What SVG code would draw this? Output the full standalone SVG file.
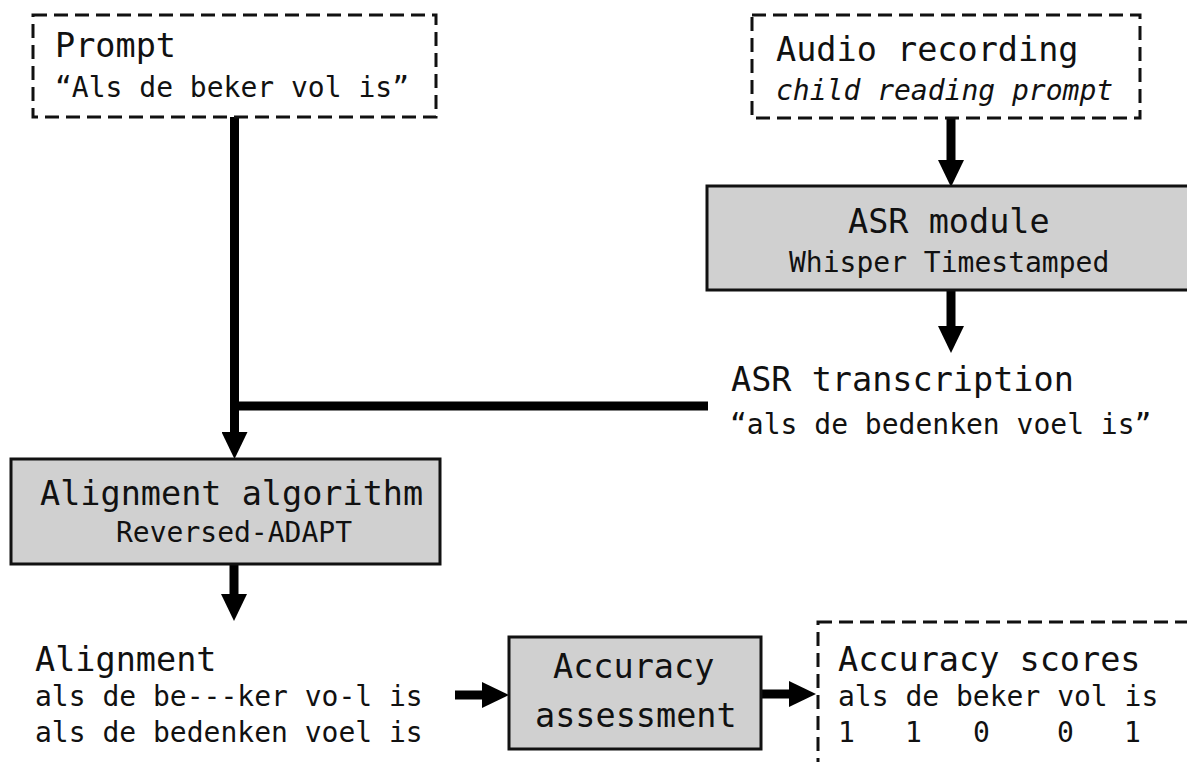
<svg xmlns="http://www.w3.org/2000/svg" width="1187" height="762" viewBox="0 0 1187 762">
<style>
text{font-family:"DejaVu Sans Mono","Liberation Mono",monospace;fill:#111}
.big{font-size:33.5px}
.sm{font-size:28px}
.it{font-style:italic}
.dash{fill:#fff;stroke:#111;stroke-width:3;stroke-dasharray:14 7}
.proc{fill:#d0d0d0;stroke:#111;stroke-width:3}
.conn{fill:none;stroke:#000;stroke-width:9}
</style>
<defs>
<marker id="ah" markerUnits="userSpaceOnUse" markerWidth="27" markerHeight="26" viewBox="0 0 27 26" refX="0" refY="13" orient="auto">
<path d="M0,0 L27,13 L0,26 Z" fill="#000"/>
</marker>
</defs>
<rect width="1187" height="762" fill="#fff"/>
<g id="connectors">
<path class="conn" d="M234.5,117 V432" marker-end="url(#ah)"/>
<path class="conn" d="M708,406 H230"/>
<path class="conn" d="M951,118 V160" marker-end="url(#ah)"/>
<path class="conn" d="M951,291 V326" marker-end="url(#ah)"/>
<path class="conn" d="M234,564 V594" marker-end="url(#ah)"/>
<path class="conn" d="M455,695 H482" marker-end="url(#ah)"/>
<path class="conn" d="M761,694 H789" marker-end="url(#ah)"/>
</g>
<g id="prompt">
<rect class="dash" x="33" y="15" width="403" height="102"/>
<text class="big" x="55" y="57">Prompt</text>
<text class="sm" x="55" y="97">“Als de beker vol is”</text>
</g>
<g id="audio">
<rect class="dash" x="752" y="15" width="388" height="103"/>
<text class="big" x="776" y="61">Audio recording</text>
<text class="sm it" x="776" y="100">child reading prompt</text>
</g>
<g id="asr-module">
<rect class="proc" x="707" y="186" width="490" height="104"/>
<text class="big" x="848" y="233">ASR module</text>
<text class="sm" x="789" y="272">Whisper Timestamped</text>
</g>
<g id="asr-transcription">
<text class="big" x="731" y="391">ASR transcription</text>
<text class="sm" x="730" y="434">“als de bedenken voel is”</text>
</g>
<g id="alignment-algorithm">
<rect class="proc" x="11" y="459" width="429" height="105"/>
<text class="big" x="40" y="505">Alignment algorithm</text>
<text class="sm" x="116" y="542">Reversed-ADAPT</text>
</g>
<g id="alignment">
<text class="big" x="35" y="671">Alignment</text>
<text class="sm" x="35" y="706">als de be---ker vo-l is</text>
<text class="sm" x="35" y="742">als de bedenken voel is</text>
</g>
<g id="accuracy-assessment">
<rect class="proc" x="509" y="637" width="252" height="112"/>
<text class="big" x="553" y="678">Accuracy</text>
<text class="big" x="535" y="727">assessment</text>
</g>
<g id="accuracy-scores">
<rect class="dash" x="818" y="622" width="400" height="200"/>
<text class="big" x="838" y="671">Accuracy scores</text>
<text class="sm" x="838" y="706">als de beker vol is</text>
<text class="sm" y="742"><tspan x="838">1</tspan><tspan x="905">1</tspan><tspan x="973">0</tspan><tspan x="1057">0</tspan><tspan x="1124">1</tspan></text>
</g>
</svg>
